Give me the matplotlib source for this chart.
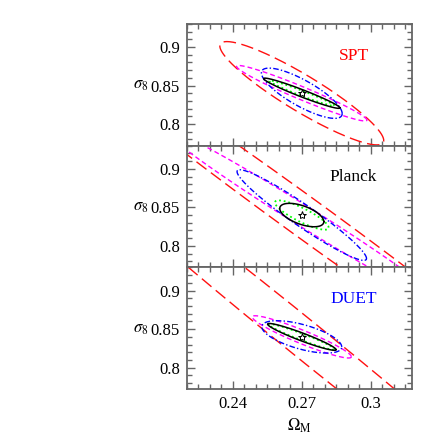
"""
Fisher forecast contours in the Omega_M - sigma_8 plane,
three stacked panels (SPT, Planck, DUET).
"""

import numpy as np
import matplotlib
matplotlib.use('Agg')
import matplotlib.pyplot as plt
from matplotlib.ticker import MultipleLocator

# fiducial model
om_fid = 0.27
s8_fid = 0.84

panel_names = ['SPT', 'Planck', 'DUET']
panel_name_colors = ['red', 'black', 'blue']

# contour order: red, magenta, blue, black, green
# half extent in Omega_M, half extent in sigma_8, correlation
spt_dx = [0.0357, 0.0284, 0.0176, 0.0166, 0.0142]
spt_dy = [0.067, 0.036, 0.0326, 0.0196, 0.0165]
spt_rho = [-0.914, -0.968, -0.81, -0.967, -0.977]

planck_dx = [0.12, 0.06, 0.0282, 0.0096, 0.0117]
planck_dy = [0.26, 0.1121, 0.0588, 0.0152, 0.019]
planck_rho = [-0.9924, -0.990, -0.957, -0.56, -0.855]

duet_dx = [0.12, 0.0216, 0.0174, 0.0149, 0.0145]
duet_dy = [0.2897, 0.0274, 0.021, 0.0174, 0.0168]
duet_rho = [-0.9942, -0.94, -0.62, -0.95, -0.965]

xticks = [0.24, 0.27, 0.3]
xtick_labels = ['0.24', '0.27', '0.3']
yticks = [0.8, 0.85, 0.9]
ytick_labels = ['0.8', '0.85', '0.9']

# line styles for the five contours
line_colors = ['#ff1010', '#ff00ff', '#0000ff', 'black', '#00ff00']
line_dashes = [(9, 4), (3.5, 2.2), (4, 1.6, 1, 1.6), None, (1, 1.6)]
line_widths = [1.0, 1.0, 1.0, 1.1, 1.3]

plt.rcParams['font.family'] = ['Liberation Serif', 'DejaVu Serif']
plt.rcParams['mathtext.fontset'] = 'stix'


def ellipse(dx, dy, rho):
    """points on the contour with the given extents and correlation"""
    t = np.linspace(0, 2 * np.pi, 400)
    x = om_fid + dx * np.cos(t)
    y = s8_fid + dy * (rho * np.cos(t) + np.sqrt(1 - rho ** 2) * np.sin(t))
    return x, y


def draw_panel(ax, dxs, dys, rhos, name, name_color):
    # green first so the black solid contour sits on top of it
    for i in [0, 1, 2, 4, 3]:
        x, y = ellipse(dxs[i], dys[i], rhos[i])
        line, = ax.plot(x, y, color=line_colors[i], lw=line_widths[i])
        if line_dashes[i] is not None:
            line.set_dashes(line_dashes[i])
    ax.plot(om_fid, s8_fid, marker='*', ms=6, mfc='none', mec='black', mew=0.7)
    ax.text(0.74, 0.74, name, color=name_color, fontsize=12.5,
            transform=ax.transAxes, ha='center', va='center')

    ax.set_xlim(0.22, 0.318)
    ax.set_ylim(0.772, 0.93)
    ax.set_xticks(xticks)
    ax.set_yticks(yticks)
    ax.set_yticklabels(ytick_labels)
    ax.xaxis.set_minor_locator(MultipleLocator(0.005))
    ax.yaxis.set_minor_locator(MultipleLocator(0.01))
    ax.tick_params(which='both', direction='in', top=True, right=True,
                   color='0.4', labelsize=12, pad=5)
    ax.tick_params(which='major', length=6, width=1)
    ax.tick_params(which='minor', length=3.5, width=1)
    for s in ax.spines.values():
        s.set_color('0.4')
        s.set_linewidth(1.3)
    ax.set_ylabel(r'$\sigma_8$', rotation=0, fontsize=12, ha='center', va='center')
    ax.yaxis.set_label_coords(-0.205, 0.494)


fig = plt.figure(figsize=(4.36, 4.36), dpi=100)
h = 0.2794
bottom = 0.1071
axes = []
for k in range(3):
    axes.append(fig.add_axes([0.4289, bottom + (2 - k) * h, 0.516, h]))

draw_panel(axes[0], spt_dx, spt_dy, spt_rho, panel_names[0], panel_name_colors[0])
draw_panel(axes[1], planck_dx, planck_dy, planck_rho, panel_names[1], panel_name_colors[1])
draw_panel(axes[2], duet_dx, duet_dy, duet_rho, panel_names[2], panel_name_colors[2])

for ax in axes[:2]:
    ax.set_xticklabels([])
axes[2].set_xticklabels(xtick_labels)
axes[2].set_xlabel(r'$\Omega_{\rm M}$', fontsize=12, labelpad=3)

fig.savefig('out.png', dpi=100)
